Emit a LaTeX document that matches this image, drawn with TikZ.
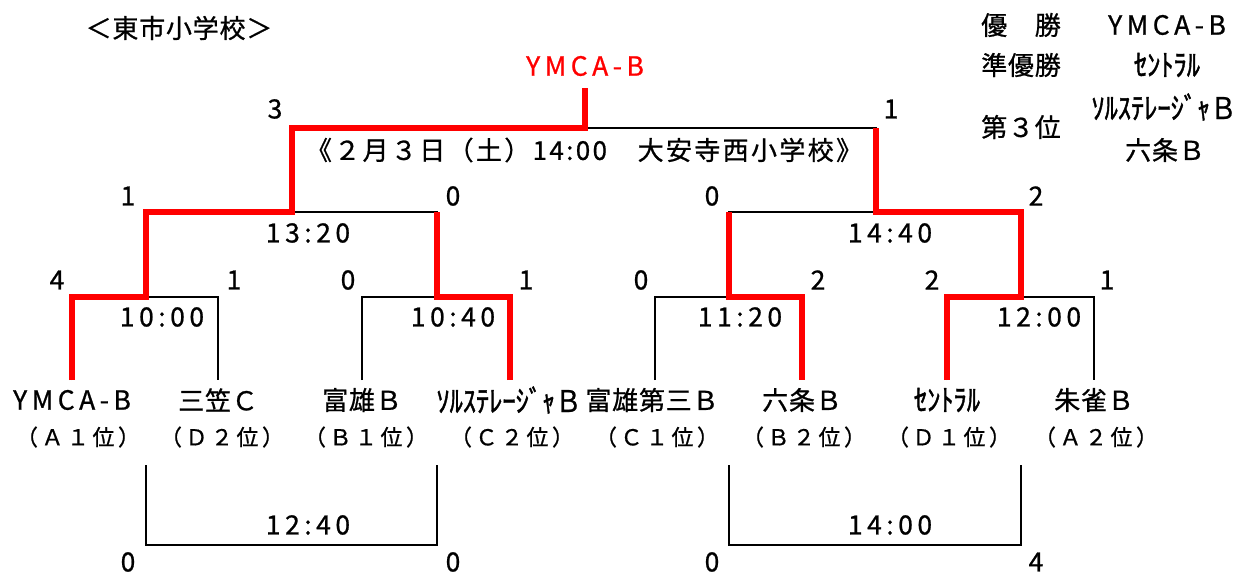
\documentclass[tikz,border=0pt]{standalone}
\usepackage{fontspec}
\newfontfamily\jp{Noto Sans CJK JP}[LetterSpace=3, FakeBold=0.8]
\newfontfamily\jpw{Noto Sans CJK JP}[LetterSpace=17, FakeBold=0.8]
\newfontfamily\kana{Noto Sans CJK JP}[FakeBold=1.5]
\definecolor{winred}{RGB}{255,0,0}

\begin{document}
\begin{tikzpicture}[
            x = 1pt, y = -1pt, % pixel grid, y downwards
            line width = 2.5pt, % bracket lines
            win/.style = {draw=winred, line width=5.5pt},
            txt/.style = {inner sep=0pt, font=\jp\fontsize{26}{30}\selectfont},
            num/.style = {inner sep=0pt, font=\jpw\fontsize{26.5}{30}\selectfont},
            rank/.style = {inner sep=0pt, font=\jp\fontsize{22}{26}\selectfont\addfontfeature{LetterSpace=16}},
            kana/.style = {inner sep=0pt, transform shape, xscale=0.88, font=\kana\fontsize{30}{34}\selectfont}
        ]
	\useasboundingbox (0,0) rectangle (1246,574);

	% headings
	\node[txt] (title) at (179,28) {＜東市小学校＞};
	\node[num, text=winred] (champ) at (585,66) {YMCA-B};
	\node[txt, font=\jp\fontsize{26}{30}\selectfont\addfontfeature{LetterSpace=9}] (date) at (584,150) {《２月３日（土）14:00　大安寺西小学校》};

	\node[txt] (h1) at (1021,25) {優　勝};
	\node[txt] (h2) at (1021,65) {準優勝};
	\node[txt] (h3) at (1021,127) {第３位};
	\node[num] (r1) at (1167,25) {YMCA-B};
	\node[kana] (r2) at (1167,65) {ｾﾝﾄﾗﾙ};
	\node[kana] (r3) at (1164,107) {ｿﾙｽﾃﾚｰｼﾞｬ{\jp Ｂ}};
	\node[txt] (r4) at (1165,150) {六条Ｂ};

	% teams
	\node[num] (n1) at (72,400) {YMCA-B};
	\node[txt] (n2) at (218,400) {三笠Ｃ};
	\node[txt] (n3) at (362,400) {富雄Ｂ};
	\node[kana] (n4) at (509,400) {ｿﾙｽﾃﾚｰｼﾞｬ{\jp Ｂ}};
	\node[txt] (n5) at (652,400) {富雄第三Ｂ};
	\node[txt] (n6) at (802,400) {六条Ｂ};
	\node[kana] (n7) at (947,400) {ｾﾝﾄﾗﾙ};
	\node[txt] (n8) at (1094,400) {朱雀Ｂ};

	\node[rank] (g1) at (78,437) {（Ａ１位）};
	\node[rank] (g2) at (222,437) {（Ｄ２位）};
	\node[rank] (g3) at (366,437) {（Ｂ１位）};
	\node[rank] (g4) at (512,437) {（Ｃ２位）};
	\node[rank] (g5) at (657,437) {（Ｃ１位）};
	\node[rank] (g6) at (804,437) {（Ｂ２位）};
	\node[rank] (g7) at (949,437) {（Ｄ１位）};
	\node[rank] (g8) at (1096,437) {（Ａ２位）};

	% bracket points
	\foreach \i/\x in {1/72,2/218,3/362,4/510,5/655,6/802,7/947,8/1094}
		\coordinate (p\i) at (\x,380);
	\coordinate (q1) at (146,297);
	\coordinate (q2) at (437,297);
	\coordinate (q3) at (729,297);
	\coordinate (q4) at (1021,297);
	\coordinate (s1) at (292,212);
	\coordinate (s2) at (876,212);
	\coordinate (f) at (585,128);
	\coordinate (c) at (585,88);

	% match times
	\node[num] (t1) at (162,317) {10:00};
	\node[num] (t2) at (453,317) {10:40};
	\node[num] (t3) at (740,317) {11:20};
	\node[num] (t4) at (1039,317) {12:00};
	\node[num] (t5) at (308,233) {13:20};
	\node[num] (t6) at (890,233) {14:40};
	\node[num] (t7) at (308,525) {12:40};
	\node[num] (t8) at (890,525) {14:00};

	% scores
	\node[num] at (57,280) {4};
	\node[num] at (234,280) {1};
	\node[num] at (348,280) {0};
	\node[num] at (526,280) {1};
	\node[num] at (641,280) {0};
	\node[num] at (818,280) {2};
	\node[num] at (932,280) {2};
	\node[num] at (1107,280) {1};
	\node[num] at (128,196) {1};
	\node[num] at (453,196) {0};
	\node[num] at (712,196) {0};
	\node[num] at (1036,196) {2};
	\node[num] at (275,109) {3};
	\node[num] at (891,109) {1};
	\node[num] at (128,562) {0};
	\node[num] at (453,562) {0};
	\node[num] at (712,562) {0};
	\node[num] at (1036,562) {4};

	% black brackets
	\draw (p1) |- (q1) -| (p2);
	\draw (p3) |- (q2) -| (p4);
	\draw (p5) |- (q3) -| (p6);
	\draw (p7) |- (q4) -| (p8);
	\draw (q1) |- (s1) -| (q2);
	\draw (q3) |- (s2) -| (q4);
	\draw (s1) |- (f) -| (s2);

	% third place games
	\coordinate (b1) at (146,465);
	\coordinate (b2) at (437,465);
	\coordinate (b3) at (729,465);
	\coordinate (b4) at (1021,465);
	\draw (b1) |- (292,545) -| (b2);
	\draw (b3) |- (875,545) -| (b4);

	% winners
	\draw[win] (p1) |- (q1) |- (s1) |- (f) -- (c);
	\draw[win] (p4) |- (q2) -- (q2 |- s1);
	\draw[win] (p6) |- (q3) -- (q3 |- s2);
	\draw[win] (p7) |- (q4) |- (s2) -- (s2 |- f);
\end{tikzpicture}
\end{document}
